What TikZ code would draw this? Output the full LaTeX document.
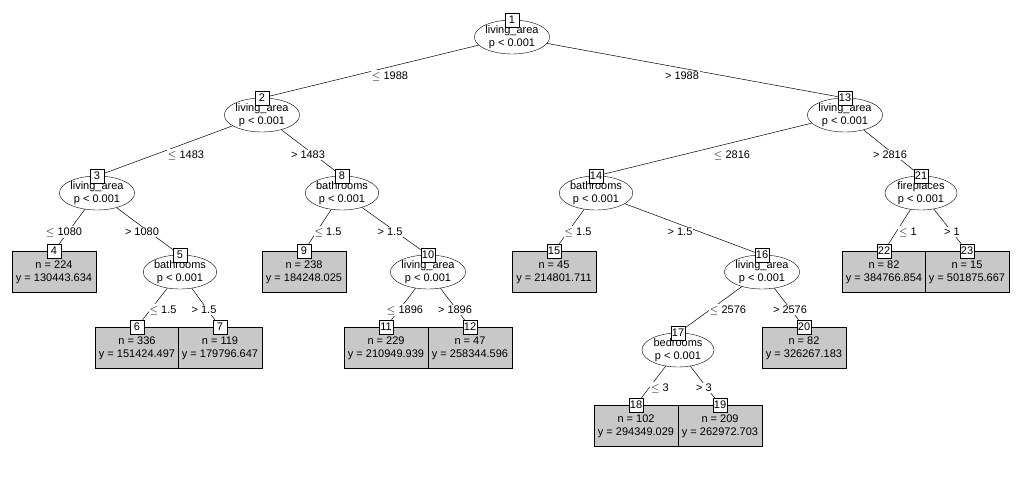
\documentclass[tikz,border=0pt]{standalone}
\usepackage{fontspec}
\setmainfont{Liberation Sans}
\usetikzlibrary{shapes.geometric}
\definecolor{term}{RGB}{200,200,200}
\begin{document}
\begin{tikzpicture}[x=1pt,y=-1pt,
  every node/.style={font=\fontsize{11}{13}\selectfont},
  inner/.style={ellipse,draw,fill=white,minimum width=72pt,minimum height=34pt,inner sep=0pt,align=center},
  term/.style={rectangle,draw,fill=term,minimum width=84pt,minimum height=41pt,inner sep=0pt,align=center},
  idbox/.style={rectangle,draw,fill=white,minimum width=14pt,minimum height=14pt,inner sep=1pt},
  lab/.style={fill=white,inner sep=1pt},
  edge/.style={draw,line width=0.5pt}]
\useasboundingbox (0,0) rectangle (1024,478);
\newcommand{\inn}[5]{% name x y var id
  \node[inner] (#1) at (#2,#3) {#4\\p < 0.001};
  \node[idbox] (#1l) at (#2,#3-17) {#5};}
\newcommand{\trm}[6]{% name x y n yv id
  \node[term] (#1) at (#2,#3) {n = #4\\y = #5};
  \node[idbox] (#1l) at (#2,#3-21) {#6};}
\inn{n1}{512}{37}{living\_area}{1}
\inn{n2}{262}{115}{living\_area}{2}
\inn{n3}{97}{193}{living\_area}{3}
\inn{n5}{180}{272}{bathrooms}{5}
\inn{n8}{342}{193}{bathrooms}{8}
\inn{n10}{428}{272}{living\_area}{10}
\inn{n13}{845}{115}{living\_area}{13}
\inn{n14}{596}{193}{bathrooms}{14}
\inn{n16}{762}{272}{living\_area}{16}
\inn{n17}{678}{350}{bedrooms}{17}
\inn{n21}{921}{193}{fireplaces}{21}
\trm{n4}{54}{272}{224}{130443.634}{4}
\trm{n6}{137}{348}{336}{151424.497}{6}
\trm{n7}{220}{348}{119}{179796.647}{7}
\trm{n9}{304}{272}{238}{184248.025}{9}
\trm{n11}{386}{348}{229}{210949.939}{11}
\trm{n12}{470}{348}{47}{258344.596}{12}
\trm{n15}{554}{272}{45}{214801.711}{15}
\trm{n18}{636}{426}{102}{294349.029}{18}
\trm{n19}{720}{426}{209}{262972.703}{19}
\trm{n20}{804}{348}{82}{326267.183}{20}
\trm{n22}{884}{272}{82}{384766.854}{22}
\trm{n23}{967}{272}{15}{501875.667}{23}
\newcommand{\edg}[5]{% parent child labelpos text
  \draw[edge] (#1) -- (#2l);
  \node[lab] at (#3,#4) {#5};}
\edg{n1}{n2}{390}{76}{$\le$ 1988}
\edg{n1}{n13}{682}{76}{> 1988}
\edg{n2}{n3}{186}{155}{$\le$ 1483}
\edg{n2}{n8}{308}{155}{> 1483}
\edg{n3}{n4}{64}{232}{$\le$ 1080}
\edg{n3}{n5}{142}{232}{> 1080}
\edg{n5}{n6}{163}{310}{$\le$ 1.5}
\edg{n5}{n7}{204}{310}{> 1.5}
\edg{n8}{n9}{328}{232}{$\le$ 1.5}
\edg{n8}{n10}{390}{232}{> 1.5}
\edg{n10}{n11}{405}{310}{$\le$ 1896}
\edg{n10}{n12}{455}{310}{> 1896}
\edg{n13}{n14}{732}{155}{$\le$ 2816}
\edg{n13}{n21}{890}{155}{> 2816}
\edg{n14}{n15}{578}{232}{$\le$ 1.5}
\edg{n14}{n16}{680}{232}{> 1.5}
\edg{n16}{n17}{728}{310}{$\le$ 2576}
\edg{n16}{n20}{790}{310}{> 2576}
\edg{n17}{n18}{660}{388}{$\le$ 3}
\edg{n17}{n19}{704}{388}{> 3}
\edg{n21}{n22}{908}{232}{$\le$ 1}
\edg{n21}{n23}{952}{232}{> 1}
\end{tikzpicture}
\end{document}
